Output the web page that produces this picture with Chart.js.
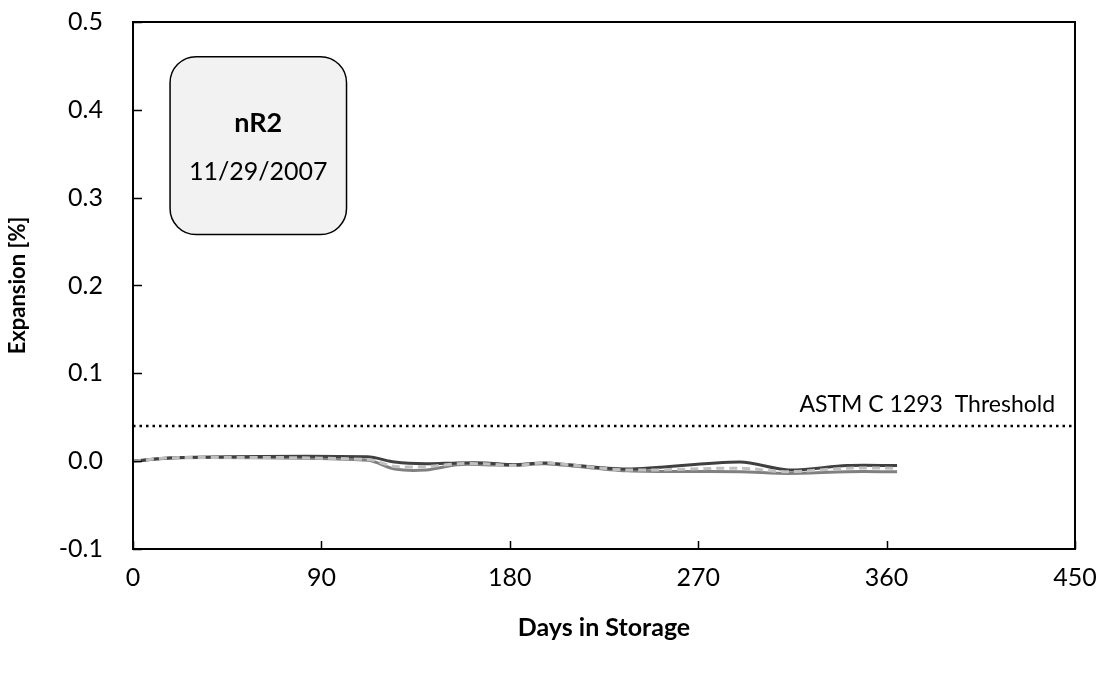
<!DOCTYPE html>
<html>
<head>
<meta charset="utf-8">
<script src="https://cdn.jsdelivr.net/npm/chart.js@4.4.1/dist/chart.umd.min.js"></script>
<style>
  html, body { margin: 0; padding: 0; background: #fff; }
  #wrap { width: 1104px; height: 673px; }
</style>
</head>
<body>
<div id="wrap"><canvas id="grafica"></canvas></div>
<script>
const dias = [0, 20, 112, 125, 140, 155, 168, 182, 197, 236, 290, 313, 341, 365];
const serieOscura = [0.000, 0.004, 0.005, -0.001, -0.003, -0.002, -0.002, -0.004, -0.002, -0.009, -0.001, -0.010, -0.005, -0.005];
const serieMedia = [0.000, 0.004, 0.001, -0.009, -0.010, -0.004, -0.004, -0.005, -0.003, -0.011, -0.012, -0.014, -0.012, -0.012];
const serieClara = [0.000, 0.004, 0.002, -0.006, -0.006, -0.003, -0.003, -0.005, -0.002, -0.010, -0.008, -0.012, -0.008, -0.008];
const umbral = 0.04;
const umbralTexto = 'ASTM C 1293  Threshold';
const xTicks = [0, 90, 180, 270, 360, 450];
const yTicks = [-0.1, 0.0, 0.1, 0.2, 0.3, 0.4, 0.5];
const cuadroTitulo = 'nR2';
const cuadroFecha = '11/29/2007';

const fuente = 'Lato, "Open Sans", sans-serif';

function puntos(valores) {
  return dias.map((d, i) => ({ x: d, y: valores[i] }));
}

function sinRelleno(s) {
  s.paddingTop = 0;
  s.paddingBottom = 0;
  s.paddingLeft = 0;
  s.paddingRight = 0;
}

// marco, marcas hacia dentro, cuadro de texto y etiqueta del umbral
const decoracion = {
  id: 'decoracion',
  afterDatasetsDraw(chart) {
    const { ctx, chartArea: a, scales: { x, y } } = chart;
    ctx.save();
    ctx.strokeStyle = '#000';
    ctx.lineWidth = 2;
    ctx.strokeRect(a.left, a.top, a.right - a.left, a.bottom - a.top);
    ctx.lineWidth = 1.5;
    ctx.beginPath();
    xTicks.forEach(t => {
      const px = Math.round(x.getPixelForValue(t)) + 0.5;
      ctx.moveTo(px, a.bottom);
      ctx.lineTo(px, a.bottom - 8);
    });
    yTicks.forEach(t => {
      const py = Math.round(y.getPixelForValue(t)) + 0.5;
      ctx.moveTo(a.left, py);
      ctx.lineTo(a.left + 9, py);
    });
    ctx.stroke();

    // cuadro
    const bx = x.getPixelForValue(17.7), by = y.getPixelForValue(0.4605);
    const bw = x.getPixelForValue(102) - bx, bh = y.getPixelForValue(0.258) - by;
    ctx.beginPath();
    ctx.roundRect(bx, by, bw, bh, 26);
    ctx.fillStyle = '#f2f2f2';
    ctx.fill();
    ctx.lineWidth = 1.5;
    ctx.strokeStyle = '#000';
    ctx.stroke();
    ctx.fillStyle = '#000';
    ctx.textAlign = 'center';
    ctx.textBaseline = 'middle';
    ctx.font = 'bold 27px ' + fuente;
    ctx.fillText(cuadroTitulo, bx + bw / 2, by + 67);
    ctx.font = '25px ' + fuente;
    ctx.fillText(cuadroFecha, bx + bw / 2, by + 115);

    // etiqueta del umbral
    ctx.textAlign = 'right';
    ctx.font = '23px ' + fuente;
    ctx.fillText(umbralTexto, x.getPixelForValue(440.5), y.getPixelForValue(0.064));
    ctx.restore();
  }
};

new Chart(document.getElementById('grafica').getContext('2d'), {
  type: 'line',
  data: {
    datasets: [
      {
        label: 'Umbral',
        data: [{ x: 0, y: umbral }, { x: 450, y: umbral }],
        borderColor: '#000',
        borderWidth: 2.5,
        borderDash: [2.5, 4],
        pointRadius: 0,
        order: 3
      },
      {
        label: 'Serie 1',
        data: puntos(serieMedia),
        borderColor: '#808080',
        borderWidth: 3,
        pointRadius: 0,
        tension: 0.3,
        order: 2
      },
      {
        label: 'Serie 2',
        data: puntos(serieOscura),
        borderColor: '#404040',
        borderWidth: 3,
        pointRadius: 0,
        tension: 0.3,
        order: 1
      },
      {
        label: 'Serie 3',
        data: puntos(serieClara),
        borderColor: '#c0c0c0',
        borderWidth: 3,
        borderDash: [8, 5],
        pointRadius: 0,
        tension: 0.3,
        order: 0
      }
    ]
  },
  options: {
    responsive: true,
    maintainAspectRatio: false,
    animation: false,
    layout: { padding: { top: 22, right: 29, left: 0, bottom: 0 } },
    plugins: {
      legend: { display: false },
      tooltip: { enabled: false }
    },
    scales: {
      x: {
        type: 'linear',
        min: 0,
        max: 450,
        afterFit(s) { s.height = 124; sinRelleno(s); },
        afterBuildTicks(s) { s.ticks = xTicks.map(v => ({ value: v })); },
        grid: { display: false, drawTicks: false },
        border: { display: false },
        ticks: {
          color: '#000',
          font: { family: fuente, size: 25 },
          padding: 14,
          maxRotation: 0
        },
        title: {
          display: true,
          text: 'Days in Storage',
          color: '#000',
          font: { family: fuente, size: 25, weight: 'bold' },
          padding: { top: 0, bottom: 30 }
        }
      },
      y: {
        min: -0.1,
        max: 0.5,
        afterFit(s) { s.width = 133; sinRelleno(s); },
        afterBuildTicks(s) { s.ticks = yTicks.map(v => ({ value: v })); },
        grid: { display: false, drawTicks: false },
        border: { display: false },
        ticks: {
          color: '#000',
          font: { family: fuente, size: 25 },
          padding: 30,
          callback: v => v.toFixed(1)
        },
        title: {
          display: true,
          text: 'Expansion [%]',
          color: '#000',
          font: { family: fuente, size: 22, weight: 'bold' },
          padding: { top: 5, bottom: 0 }
        }
      }
    }
  },
  plugins: [decoracion]
});
</script>
</body>
</html>
